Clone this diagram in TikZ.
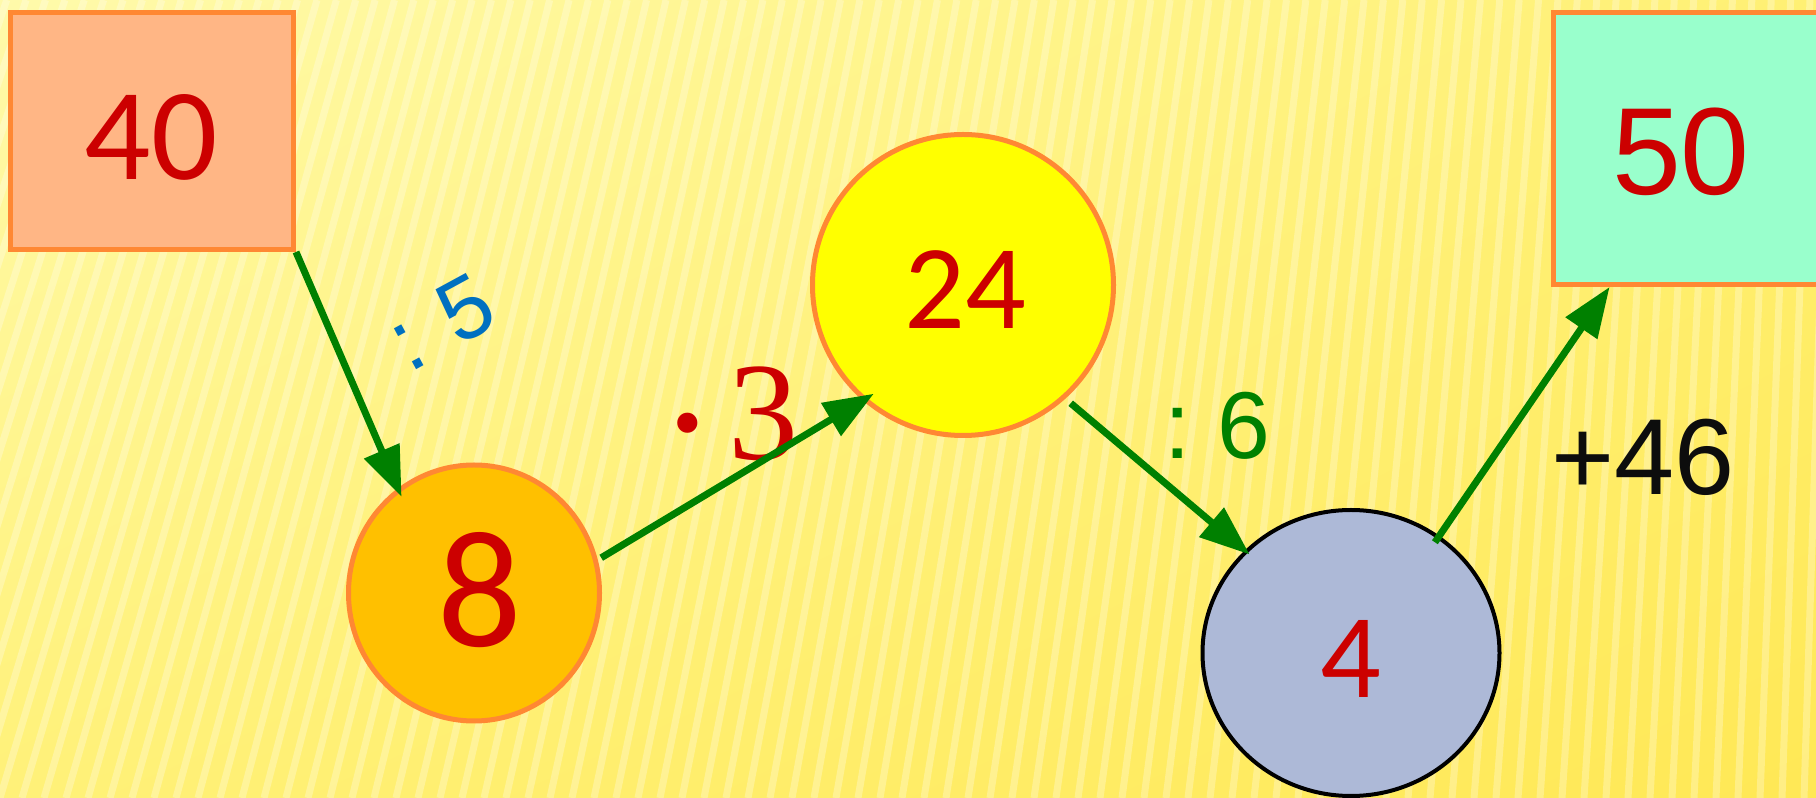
\documentclass[tikz,border=0pt]{standalone}
\usepackage{fontspec}
\newfontfamily\fcal{Carlito}
\newfontfamily\farial{Liberation Sans}
\newfontfamily\fserif{Liberation Serif}
\usetikzlibrary{arrows.meta,shapes.geometric,shadings}
\definecolor{bord}{RGB}{255,136,51}
\definecolor{peach}{RGB}{255,182,133}
\definecolor{mint}{RGB}{153,255,204}
\definecolor{yel}{RGB}{255,255,0}
\definecolor{gold}{RGB}{255,192,0}
\definecolor{lav}{RGB}{173,185,215}
\definecolor{numred}{RGB}{204,0,0}
\definecolor{arrgreen}{RGB}{0,128,0}
\definecolor{lblue}{RGB}{0,112,192}
\definecolor{ink}{RGB}{13,13,13}
\definecolor{bgA}{RGB}{255,250,170}
\definecolor{bgB}{RGB}{255,240,115}
\definecolor{bgC}{RGB}{255,241,120}
\definecolor{bgD}{RGB}{255,232,85}
\begin{document}
\begin{tikzpicture}[x=1pt,y=1pt,
  shapebox/.style={draw=bord,line width=5pt,inner sep=0pt},
  numtext/.style={inner sep=0pt,text=numred},
  arr/.style={draw=arrgreen,line width=7pt,-{Triangle[length=50pt,width=37pt]}},
  stripe/.style={white,opacity=0.28,line width=7pt},
  lbl/.style={inner sep=0pt}]
\useasboundingbox (0,0) rectangle (1816,798);
\shade[upper left=bgA,upper right=bgB,lower left=bgC,lower right=bgD] (0,0) rectangle (1816,798);
\foreach \i in {-12,...,84}{
  \pgfmathsetmacro\xa{\i*22}
  \pgfmathsetmacro\sl{0.30-0.27*\xa/1816}
  \draw[stripe] (\xa,0) -- ({\xa+\sl*798},798);
}
% shapes
\node[shapebox,rectangle,fill=peach,minimum width=283pt,minimum height=237pt] (b40) at (152,667) {};
\node[shapebox,rectangle,fill=mint,minimum width=300pt,minimum height=272pt] (b50) at (1703,649.5) {};
\node[shapebox,circle,fill=yel,minimum size=301pt] (c24) at (963,513) {};
\node[shapebox,ellipse,fill=gold,minimum width=251pt,minimum height=256pt] (c8) at (474,205) {};
\node[draw=black,line width=4pt,inner sep=0pt,ellipse,fill=lav,minimum width=297pt,minimum height=286pt] (c4) at (1351,145) {};
% numbers
\node[numtext,font=\fcal\fontsize{131}{131}\selectfont] (t40) at (151,661) {40};
\node[numtext,font=\fcal\fontsize{120}{120}\selectfont] (t24) at (965,508) {24};
\node[numtext,font=\fcal\fontsize{167}{167}\selectfont] (t8) at (480,208) {8};
\node[numtext,font=\fcal\fontsize{120}{120}\selectfont] (t4) at (1351,139) {4};
\node[numtext,font=\farial\fontsize{124}{124}\selectfont] (t50) at (1681,646) {50};
% operation labels
\node[lbl,text=lblue,rotate=28.5,font=\farial\fontsize{88}{88}\selectfont] (l5) at (441,476) {:\hspace{0.36em}5};
\node[lbl,text=numred,anchor=base west,font=\fserif\fontsize{140}{140}\selectfont] (l3) at (659,338) {\raisebox{-20pt}{\fontsize{170}{170}\selectfont ·}\hspace{13pt}3};
\node[lbl,text=arrgreen,anchor=base west,font=\farial\fontsize{95}{95}\selectfont] (l6) at (1164,339) {:\hspace{0.28em}6};
\node[lbl,text=ink,anchor=base,font=\farial\fontsize{108}{108}\selectfont] (l46) at (1643,303) {+46};
% connectors
\draw[arr,shorten >=-9.4pt] (b40.south east) -- (c8.126);
\draw[arr,shorten <=4pt,shorten >=-13pt] (c8.15.8) -- (c24.229.4);
\draw[arr,shorten <=7pt,shorten >=-6.4pt] (c24.-48.5) -- (c4.136.1);
\draw[arr,shorten <=-8pt] (c4.53.8) -- (b50.236.8);
\end{tikzpicture}
\end{document}
